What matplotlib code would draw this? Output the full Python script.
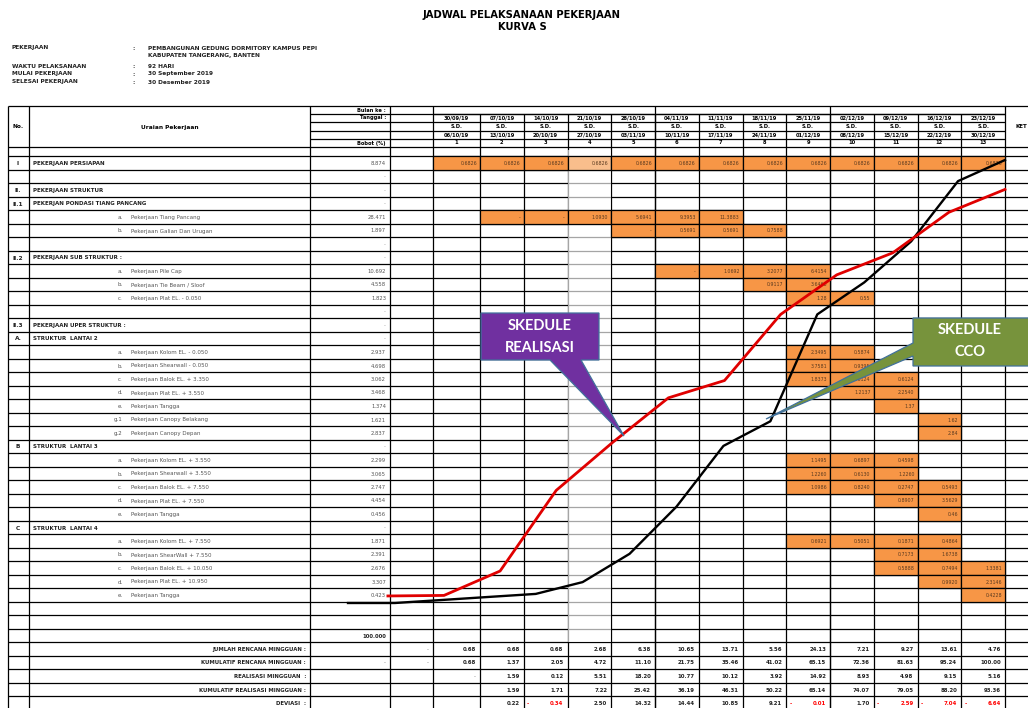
import matplotlib
matplotlib.use('Agg')
import matplotlib.pyplot as plt
from matplotlib.patches import Rectangle, Polygon

# ---- data ----
minggu_awal = ['30/09/19', '07/10/19', '14/10/19', '21/10/19', '28/10/19', '04/11/19', '11/11/19',
               '18/11/19', '25/11/19', '02/12/19', '09/12/19', '16/12/19', '23/12/19']
minggu_akhir = ['06/10/19', '13/10/19', '20/10/19', '27/10/19', '03/11/19', '10/11/19', '17/11/19',
                '24/11/19', '01/12/19', '08/12/19', '15/12/19', '22/12/19', '30/12/19']

no_item = ['I', '', 'II.', 'II.1', '', '', '', 'II.2', '', '', '', '', 'II.3', 'A.', '', '', '', '', '', '', '',
           'B', '', '', '', '', '', 'C', '', '', '', '', '']
huruf = ['', '', '', '', 'a.', 'b.', '', '', 'a.', 'b.', 'c.', '', '', '', 'a.', 'b.', 'c.', 'd.', 'e.', 'g.1', 'g.2',
         '', 'a.', 'b.', 'c.', 'd.', 'e.', '', 'a.', 'b.', 'c.', 'd.', 'e.']
uraian = ['PEKERJAAN PERSIAPAN', '', 'PEKERJAAN STRUKTUR', 'PEKERJAN PONDASI TIANG PANCANG',
          'Pekerjaan Tiang Pancang', 'Pekerjaan Galian Dan Urugan', '', 'PEKERJAAN SUB STRUKTUR :',
          'Pekerjaan Pile Cap', 'Pekerjaan Tie Beam / Sloof', 'Pekerjaan Plat EL. - 0.050', '',
          'PEKERJAAN UPER STRUKTUR :', 'STRUKTUR  LANTAI 2', 'Pekerjaan Kolom EL. - 0.050',
          'Pekerjaan Shearwall - 0.050', 'Pekerjaan Balok EL. + 3.350', 'Pekerjaan Plat EL. + 3.550',
          'Pekerjaan Tangga', 'Pekerjaan Canopy Belakang', 'Pekerjaan Canopy Depan', 'STRUKTUR  LANTAI 3',
          'Pekerjaan Kolom EL. + 3.550', 'Pekerjaan Shearwall + 3.550', 'Pekerjaan Balok EL. + 7.550',
          'Pekerjaan Plat EL. + 7.550', 'Pekerjaan Tangga', 'STRUKTUR  LANTAI 4', 'Pekerjaan Kolom EL. + 7.550',
          'Pekerjaan ShearWall + 7.550', 'Pekerjaan Balok EL. + 10.050', 'Pekerjaan Plat EL. + 10.950',
          'Pekerjaan Tangga']
bobot = ['8.874', '-', '-', '-', '28.471', '1.897', '-', '-', '10.692', '4.558', '1.823', '-', '-', '-',
         '2.937', '4.698', '3.062', '3.468', '1.374', '1.621', '2.837', '-', '2.299', '3.065', '2.747',
         '4.454', '0.456', '-', '1.871', '2.391', '2.676', '3.307', '0.423']

# orange schedule bars: row, first week, cell texts
jadwal_baris = [0, 4, 5, 8, 9, 10, 14, 15, 16, 17, 18, 19, 20, 22, 23, 24, 25, 26, 28, 29, 30, 31, 32]
jadwal_mulai = [1, 2, 5, 6, 8, 9, 9, 9, 9, 10, 11, 12, 12, 9, 9, 9, 11, 12, 9, 11, 11, 12, 13]
jadwal_nilai = [['0.6826'] * 13,
                ['-', '-', '1.0930', '5.6941', '9.3953', '11.3883'],
                ['-', '0.5691', '0.5691', '0.7588'],
                ['-', '1.0692', '3.2077', '6.4154'],
                ['0.9117', '3.6468'],
                ['1.28', '0.55'],
                ['2.3495', '0.5874'],
                ['3.7581', '0.9395'],
                ['1.8373', '0.6124', '0.6124'],
                ['1.2137', '2.2540'],
                ['1.37'],
                ['1.62'],
                ['2.84'],
                ['1.1495', '0.6897', '0.4598'],
                ['1.2260', '0.6130', '1.2260'],
                ['1.0986', '0.8240', '0.2747', '0.5493'],
                ['0.8907', '3.5629'],
                ['0.46'],
                ['0.6921', '0.5051', '0.1871', '0.4864'],
                ['0.7173', '1.6738'],
                ['0.5888', '0.7494', '1.3381'],
                ['0.9920', '2.3146'],
                ['0.4228']]

rencana = [0.68, 0.68, 0.68, 2.68, 6.38, 10.65, 13.71, 5.56, 24.13, 7.21, 9.27, 13.61, 4.76]
kum_rencana = [0.68, 1.37, 2.05, 4.72, 11.10, 21.75, 35.46, 41.02, 65.15, 72.36, 81.63, 95.24, 100.00]
realisasi = [None, 1.59, 0.12, 5.51, 18.20, 10.77, 10.12, 3.92, 14.92, 8.93, 4.98, 9.15, 5.16]
kum_realisasi = [None, 1.59, 1.71, 7.22, 25.42, 36.19, 46.31, 50.22, 65.14, 74.07, 79.05, 88.20, 93.36]
deviasi = [None, 0.22, -0.34, 2.50, 14.32, 14.44, 10.85, 9.21, -0.01, 1.70, -2.59, -7.04, -6.64]

ringkasan = ['JUMLAH RENCANA MINGGUAN :', 'KUMULATIF RENCANA MINGGUAN :', 'REALISASI MINGGUAN  :',
             'KUMULATIF REALISASI MINGGUAN :', 'DEVIASI  :']

# ---- layout (pixels) ----
W, H = 1028, 708
fig = plt.figure(figsize=(W / 100, H / 100), dpi=100)
ax = fig.add_axes([0, 0, 1, 1])
ax.set_xlim(0, W)
ax.set_ylim(H, 0)
ax.axis('off')

x_no, x_ur, x_bb, x_ex = 8, 29, 310, 390
wk = [433, 480] + [480 + k * 43.75 for k in range(1, 13)]
x_ket = wk[-1]
y_top = 106
hdr = [106, 114, 122, 130.5, 139, 147, 156.25]
rh = 13.5
y0 = 156.25
n_rows = 41
ys = [y0 + i * rh for i in range(n_rows + 1)]

def cy(r):
    return y0 + r * rh + rh / 2 + 0.5

LW = 0.9
K = 'black'
dark = '#222222'
grey = '#555555'

# title + info
ax.text(522, 15, 'JADWAL PELAKSANAAN PEKERJAAN', ha='center', va='center', fontsize=7.2, fontweight='bold')
ax.text(522, 27, 'KURVA S', ha='center', va='center', fontsize=7.2, fontweight='bold')
info = [('PEKERJAAN', 'PEMBANGUNAN GEDUNG DORMITORY KAMPUS PEPI', 48),
        ('', 'KABUPATEN TANGERANG, BANTEN', 56),
        ('WAKTU PELAKSANAAN', '92 HARI', 66),
        ('MULAI PEKERJAAN', '30 September 2019', 74),
        ('SELESAI PEKERJAAN', '30 Desember 2019', 82)]
for lab, val, y in info:
    if lab:
        ax.text(12, y, lab, ha='left', va='center', fontsize=4.2, fontweight='bold', color=dark)
        ax.text(132, y, ':', ha='left', va='center', fontsize=4.2, fontweight='bold', color=dark)
    ax.text(148, y, val, ha='left', va='center', fontsize=4.2, fontweight='bold', color=dark)

# week-4 pale column (spreadsheet render artefact)
ax.add_patch(Rectangle((wk[3], 150), wk[4] - wk[3], 492, facecolor='white', edgecolor='none', zorder=3, alpha=0.65))

# orange cells
for r, w0, vals in zip(jadwal_baris, jadwal_mulai, jadwal_nilai):
    for j, v in enumerate(vals):
        w = w0 + j
        xa, xb = wk[w - 1], wk[w]
        fc = '#F9BE8C' if (w == 4 and r == 0) else '#F79646'
        ax.add_patch(Rectangle((xa, ys[r]), xb - xa, rh, facecolor=fc, edgecolor=K, lw=LW, zorder=4))
        ax.text(xb - 3, cy(r), v, ha='right', va='center', fontsize=3.4, color='#5a3a20', zorder=5)

# grid lines - header
ax.hlines(y_top, x_no, W, color=K, lw=LW, zorder=2)
for y in hdr[1:5]:
    ax.hlines(y, x_bb, x_ket, color=K, lw=LW, zorder=2)
ax.hlines(hdr[1], wk[0], x_ket, color=K, lw=LW, zorder=2)
ax.hlines(hdr[5], x_no, W, color=K, lw=LW, zorder=2)
for x in [x_no, x_ur, x_bb, x_ex, wk[0], wk[5], wk[9], x_ket]:
    ax.vlines(x, y_top, ys[-1], color=K, lw=LW, zorder=2)
for x in wk[1:-1]:
    ax.vlines(x, hdr[1], ys[-1], color=K, lw=LW, zorder=2)
# body
for y in ys:
    ax.hlines(y, x_no, W, color=K, lw=LW, zorder=2)

# header text
hs = 3.7
ax.text(18, 127, 'No.', ha='center', va='center', fontsize=4.2, fontweight='bold')
ax.text(170, 127, 'Uraian Pekerjaan', ha='center', va='center', fontsize=4.2, fontweight='bold')
ax.text(1021, 127, 'KET', ha='center', va='center', fontsize=4.0, fontweight='bold')
ax.text(386, 110, 'Bulan ke :', ha='right', va='center', fontsize=hs, fontweight='bold')
ax.text(386, 118, 'Tanggal :', ha='right', va='center', fontsize=hs, fontweight='bold')
ax.text(386, 143, 'Bobot (%)', ha='right', va='center', fontsize=hs, fontweight='bold')
for i in range(13):
    xc = (wk[i] + wk[i + 1]) / 2
    ax.text(xc, 118, minggu_awal[i], ha='center', va='center', fontsize=hs, fontweight='bold')
    ax.text(xc, 126.5, 'S.D.', ha='center', va='center', fontsize=hs, fontweight='bold')
    ax.text(xc, 135, minggu_akhir[i], ha='center', va='center', fontsize=hs, fontweight='bold')
    ax.text(xc, 143, str(i + 1), ha='center', va='center', fontsize=hs, fontweight='bold')

# body text
for r in range(len(uraian)):
    y = cy(r)
    if no_item[r]:
        ax.text(18, y, no_item[r], ha='center', va='center', fontsize=4.2, fontweight='bold', color=dark)
    if huruf[r]:
        ax.text(123, y, huruf[r], ha='right', va='center', fontsize=4.0, color=grey)
        ax.text(131, y, uraian[r], ha='left', va='center', fontsize=4.0, color=grey)
    elif uraian[r]:
        ax.text(33, y, uraian[r], ha='left', va='center', fontsize=4.0, fontweight='bold', color=dark)
    ax.text(x_ex - 4, y, bobot[r], ha='right', va='center', fontsize=3.8,
            color=grey if bobot[r] != '-' else '#999999')
ax.text(x_ex - 4, cy(35), '100.000', ha='right', va='center', fontsize=3.8, fontweight='bold', color=dark)

# summary rows
for k, lab in enumerate(ringkasan):
    ax.text(306, cy(36 + k), lab, ha='right', va='center', fontsize=3.9, fontweight='bold', color=dark)
ax.text(wk[0] - 4, cy(36), '-', ha='right', va='center', fontsize=3.9, color='#777777')
ax.text(x_ex - 4, cy(37), '-', ha='right', va='center', fontsize=3.9, color='#777777')
ax.text(wk[0] - 4, cy(37), '-', ha='right', va='center', fontsize=3.9, color='#777777')
ax.text(wk[1] - 4, cy(38), '-', ha='right', va='center', fontsize=3.9, color='#777777')
for i in range(13):
    xr = wk[i + 1] - 4
    ax.text(xr, cy(36), f'{rencana[i]:.2f}', ha='right', va='center', fontsize=3.9, fontweight='bold', color=dark)
    ax.text(xr, cy(37), f'{kum_rencana[i]:.2f}', ha='right', va='center', fontsize=3.9, fontweight='bold', color=dark)
    if realisasi[i] is not None:
        ax.text(xr, cy(38), f'{realisasi[i]:.2f}', ha='right', va='center', fontsize=3.9, fontweight='bold', color=dark)
        ax.text(xr, cy(39), f'{kum_realisasi[i]:.2f}', ha='right', va='center', fontsize=3.9, fontweight='bold', color=dark)
    d = deviasi[i]
    if d is not None:
        if d < 0:
            ax.text(wk[i] + 3, cy(40), '-', ha='left', va='center', fontsize=3.9, fontweight='bold', color='red')
            ax.text(xr, cy(40), f'{-d:.2f}', ha='right', va='center', fontsize=3.9, fontweight='bold', color='red')
        else:
            ax.text(xr, cy(40), f'{d:.2f}', ha='right', va='center', fontsize=3.9, fontweight='bold', color=dark)

# ---- S curves (overlay chart) ----
px_l, px_r = 348, 1005
py0, py100 = 603, 160
axc = fig.add_axes([px_l / W, (H - py0) / H, (px_r - px_l) / W, (py0 - py100) / H])
axc.patch.set_visible(False)
axc.set_xlim(-1, 13)
axc.set_ylim(0, 100)
axc.axis('off')
axc.plot(range(-1, 14), [0, 0] + kum_rencana, color='black', lw=1.7, clip_on=False, solid_joinstyle='round')

axr = axc.twiny()
axr.set_xlim(13 - (px_r - px_l) / 56.1, 13)
axr.axis('off')
axr.plot(range(2, 14), kum_realisasi[1:], color='#E00000', lw=2.0, clip_on=False, solid_joinstyle='round')

# ---- callouts ----
axt = fig.add_axes([0, 0, 1, 1])
axt.patch.set_visible(False)
axt.set_xlim(0, W)
axt.set_ylim(H, 0)
axt.axis('off')
axt.add_patch(Polygon([(481, 313), (599, 313), (599, 360), (581, 360), (624, 436), (550, 360), (481, 360)],
                      closed=True, facecolor='#7030A0', edgecolor='#41719C', lw=0.9))
axt.text(540, 326, 'SKEDULE', ha='center', va='center', fontsize=10.5, fontweight='bold', color='white',
         family='Lato')
axt.text(540, 348, 'REALISASI', ha='center', va='center', fontsize=10.5, fontweight='bold', color='white',
         family='Lato')
axt.add_patch(Polygon([(913, 318), (1035, 318), (1035, 366), (913, 366), (913, 356), (766, 419), (913, 343)],
                      closed=True, facecolor='#77933C', edgecolor='#41719C', lw=0.9))
axt.text(970, 330, 'SKEDULE', ha='center', va='center', fontsize=10.5, fontweight='bold', color='white',
         family='Lato')
axt.text(970, 352, 'CCO', ha='center', va='center', fontsize=10.5, fontweight='bold', color='white',
         family='Lato')

fig.savefig('out.png', dpi=100)
